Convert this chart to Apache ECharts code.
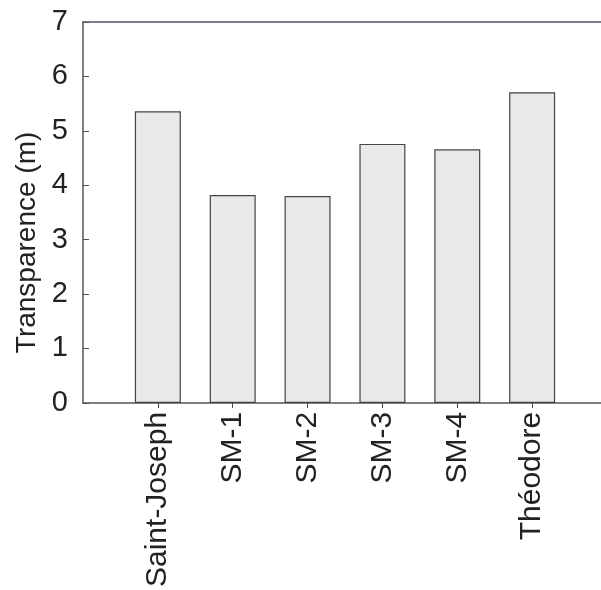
<!DOCTYPE html>
<html><head><meta charset="utf-8">
<script src="https://cdn.jsdelivr.net/npm/echarts@6/dist/echarts.min.js"></script>
<style>html,body{margin:0;padding:0;background:#fff}#c{width:601px;height:590px}</style>
</head><body><div id="c"></div>
<script>
const categories = ['Saint-Joseph', 'SM-1', 'SM-2', 'SM-3', 'SM-4', 'Théodore'];
const values = [5.36, 3.82, 3.80, 4.76, 4.66, 5.71];
const yTicks = [0, 1, 2, 3, 4, 5, 6, 7];

const chart = echarts.init(document.getElementById('c'));
const font = 'Liberation Sans, Arial, sans-serif';
chart.setOption({
  animation: false,
  grid: { left: 83, right: 0, top: 22, bottom: 182 },
  xAxis: [{
    type: 'value', min: 0, max: 6.92, interval: 1,
    axisLine: { show: true, lineStyle: { color: '#555', width: 1.5 } },
    axisTick: { show: true, length: 5, lineStyle: { color: '#444' } },
    splitLine: { show: false },
    axisLabel: {
      rotate: 90, fontSize: 30, color: '#222', fontFamily: font, margin: 9,
      showMinLabel: false, showMaxLabel: false,
      formatter: v => (v >= 1 && v <= categories.length) ? categories[v - 1] : ''
    }
  }, {
    type: 'value', position: 'top', min: 0, max: 6.92,
    axisLine: { show: true, lineStyle: { color: '#556', width: 1.5 } },
    axisTick: { show: false }, axisLabel: { show: false }, splitLine: { show: false }
  }],
  yAxis: {
    type: 'value', min: yTicks[0], max: yTicks[yTicks.length - 1], interval: 1,
    name: 'Transparence (m)', nameLocation: 'middle', nameGap: 42,
    nameTextStyle: { fontSize: 28, color: '#222', fontFamily: font, padding: [0, 60, 0, 0] },
    axisLine: { show: true, lineStyle: { color: '#555', width: 1.5 } },
    axisTick: { show: true, inside: true, length: 6, lineStyle: { color: '#555' } },
    splitLine: { show: false },
    axisLabel: { fontSize: 29, color: '#222', fontFamily: font, margin: 15 }
  },
  series: [{
    type: 'bar', barWidth: 46,
    data: values.map((v, i) => [i + 1, v]),
    itemStyle: { color: '#e9e9e9', borderColor: '#444', borderWidth: 1.2 }
  }]
});
</script></body></html>
